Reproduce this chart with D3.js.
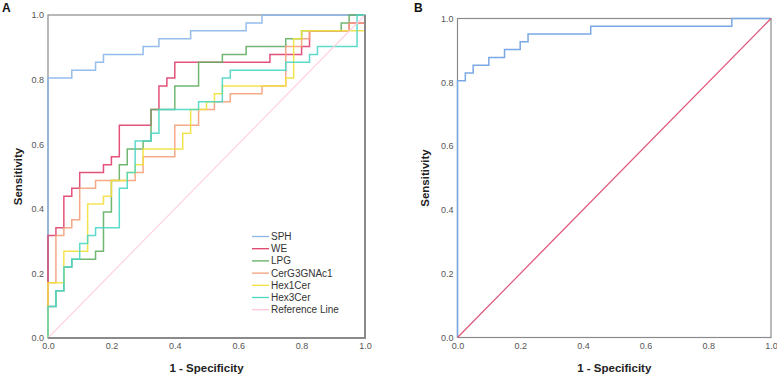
<!DOCTYPE html>
<html>
<head>
<meta charset="utf-8">
<script src="https://cdn.jsdelivr.net/npm/d3@7"></script>
<style>
  body { margin: 0; background: #fff; }
  svg { display: block; font-family: "Liberation Sans", Arial, sans-serif; }
</style>
</head>
<body>
<div id="chart"></div>
<script>
// ROC curves, steps counted in cases (40 negatives, 41 positives)
const nNeg = 40, nPos = 41;
const ticks = [0, 0.2, 0.4, 0.6, 0.8, 1.0];

const seriesNames = ["SPH", "WE", "LPG", "CerG3GNAc1", "Hex1Cer", "Hex3Cer"];
const seriesColors = ["#8ab6ea", "#e0406a", "#62ae62", "#f5a07c", "#f2e03c", "#4cd6c4"];

// corner points: false positives / true positives
const sphFp  = [0, 0, 3, 6, 7, 12, 14, 18, 25, 27, 40];
const sphTp  = [0, 33, 34, 35, 36, 37, 38, 39, 40, 41, 41];
const weFp   = [0, 0, 1, 2, 3, 4, 7, 8, 9, 13, 14, 15, 16, 28, 32, 33, 38, 40];
const weTp   = [0, 13, 14, 18, 19, 21, 22, 23, 27, 29, 32, 33, 35, 36, 37, 39, 40, 41];
const lpgFp  = [0, 0, 1, 2, 3, 6, 7, 8, 9, 10, 12, 13, 16, 19, 22, 25, 30, 32, 37, 38, 40];
const lpgTp  = [0, 4, 6, 9, 10, 11, 16, 20, 22, 24, 25, 29, 32, 35, 36, 37, 38, 39, 40, 41, 41];
const cerFp  = [0, 0, 1, 2, 3, 4, 6, 11, 12, 16, 19, 21, 23, 27, 30, 32, 33, 38, 40];
const cerTp  = [0, 7, 13, 14, 15, 19, 20, 21, 23, 27, 29, 30, 31, 32, 37, 38, 39, 40, 41];
const hex1Fp = [0, 0, 2, 5, 7, 8, 10, 11, 12, 17, 18, 20, 21, 22, 30, 31, 32, 40];
const hex1Tp = [0, 7, 11, 17, 18, 20, 21, 22, 24, 26, 29, 30, 31, 32, 33, 38, 39, 41];
const hex3Fp = [0, 0, 1, 2, 3, 4, 5, 6, 9, 10, 11, 13, 14, 19, 22, 23, 30, 33, 34, 39, 40];
const hex3Tp = [0, 4, 6, 9, 10, 12, 13, 14, 19, 21, 25, 26, 29, 30, 33, 34, 35, 36, 37, 41, 41];

// panel B: combined SPH model
const combFp = [0, 0, 1, 2, 4, 6, 8, 9, 17, 35, 40];
const combTp = [0, 33, 34, 35, 36, 37, 38, 39, 40, 41, 41];

const toPts = (fp, tp) => fp.map((f, i) => [f / nNeg, tp[i] / nPos]);

const panelA = [
  toPts(sphFp, sphTp), toPts(weFp, weTp), toPts(lpgFp, lpgTp),
  toPts(cerFp, cerTp), toPts(hex1Fp, hex1Tp), toPts(hex3Fp, hex3Tp)
];

const svg = d3.select("#chart").append("svg")
  .attr("width", 777).attr("height", 378);

function panel(box, letter, titleX) {
  const x = d3.scaleLinear().domain([0, 1]).range([box.left, box.right]);
  const y = d3.scaleLinear().domain([0, 1]).range([box.bottom, box.top]);
  const g = svg.append("g");

  g.append("rect")
    .attr("x", box.left).attr("y", box.top)
    .attr("width", box.right - box.left).attr("height", box.bottom - box.top)
    .attr("fill", "none").attr("stroke", "#8a8a8a").attr("stroke-width", 1.2);

  const xa = g.append("g").attr("transform", `translate(0,${box.bottom})`)
    .call(d3.axisBottom(x).tickValues(ticks).tickFormat(d3.format(".1f")).tickSize(0).tickPadding(5));
  const ya = g.append("g").attr("transform", `translate(${box.left},0)`)
    .call(d3.axisLeft(y).tickValues(ticks).tickFormat(d3.format(".1f")).tickSize(0).tickPadding(4));
  [xa, ya].forEach(a => {
    a.select(".domain").remove();
    a.selectAll("text").attr("fill", "#555").style("font-size", "9px")
      .style("font-family", "'Liberation Sans', Arial, sans-serif");
  });

  g.append("text").attr("x", (box.left + box.right) / 2).attr("y", 372)
    .attr("text-anchor", "middle").attr("font-weight", "bold").attr("font-size", 11.5)
    .attr("fill", "#222").text("1 - Specificity");
  g.append("text").attr("transform", `translate(${titleX},${(box.top + box.bottom) / 2}) rotate(-90)`)
    .attr("text-anchor", "middle").attr("font-weight", "bold").attr("font-size", 11.5)
    .attr("fill", "#222").text("Sensitivity");
  g.append("text").attr("x", letter.x).attr("y", 11.5)
    .attr("font-weight", "bold").attr("font-size", 12).attr("fill", "#111").text(letter.t);

  return { g, x, y };
}

// ---------- Panel A ----------
const A = panel({ left: 48, right: 365, top: 15, bottom: 338 }, { t: "A", x: 2 }, 22);
const lineA = d3.line().x(d => A.x(d[0])).y(d => A.y(d[1])).curve(d3.curveStepAfter);

panelA.forEach((pts, i) => {
  A.g.append("path").datum(pts)
    .attr("d", lineA)
    .attr("fill", "none")
    .attr("stroke", seriesColors[i])
    .attr("stroke-width", 1.5)
    .attr("opacity", 0.9);
});
A.g.append("line")
  .attr("x1", A.x(0)).attr("y1", A.y(0)).attr("x2", A.x(1)).attr("y2", A.y(1))
  .attr("stroke", "#ffd3df").attr("stroke-width", 1.2);

// darker right/bottom frame edges
A.g.append("path")
  .attr("d", `M${A.x(1)},${A.y(1)}V${A.y(0)}H${A.x(0)}`)
  .attr("fill", "none").attr("stroke", "#8a8a8a").attr("stroke-width", 2);

// legend
const legNames = seriesNames.concat(["Reference Line"]);
const legColors = seriesColors.concat(["#ffc8d6"]);
const leg = A.g.append("g").attr("transform", "translate(252,236.5)");
legNames.forEach((n, i) => {
  const row = leg.append("g").attr("transform", `translate(0,${i * 12.2})`);
  row.append("line").attr("x1", 0).attr("x2", 17).attr("y1", 0).attr("y2", 0)
    .attr("stroke", legColors[i]).attr("stroke-width", 1.3);
  row.append("text").attr("x", 19).attr("y", 3.5)
    .attr("font-size", 10).attr("fill", "#333").text(n);
});

// ---------- Panel B ----------
const B = panel({ left: 457.5, right: 771, top: 18.5, bottom: 337.5 }, { t: "B", x: 414 }, 429);
const lineB = d3.line().x(d => B.x(d[0])).y(d => B.y(d[1])).curve(d3.curveStepAfter);

B.g.append("path").datum(toPts(combFp, combTp))
  .attr("d", lineB)
  .attr("fill", "none")
  .attr("stroke", "#7aa8e4")
  .attr("stroke-width", 1.5);
B.g.append("line")
  .attr("x1", B.x(0)).attr("y1", B.y(0)).attr("x2", B.x(1)).attr("y2", B.y(1))
  .attr("stroke", "#e0587a").attr("stroke-width", 1.3);
</script>
</body>
</html>
